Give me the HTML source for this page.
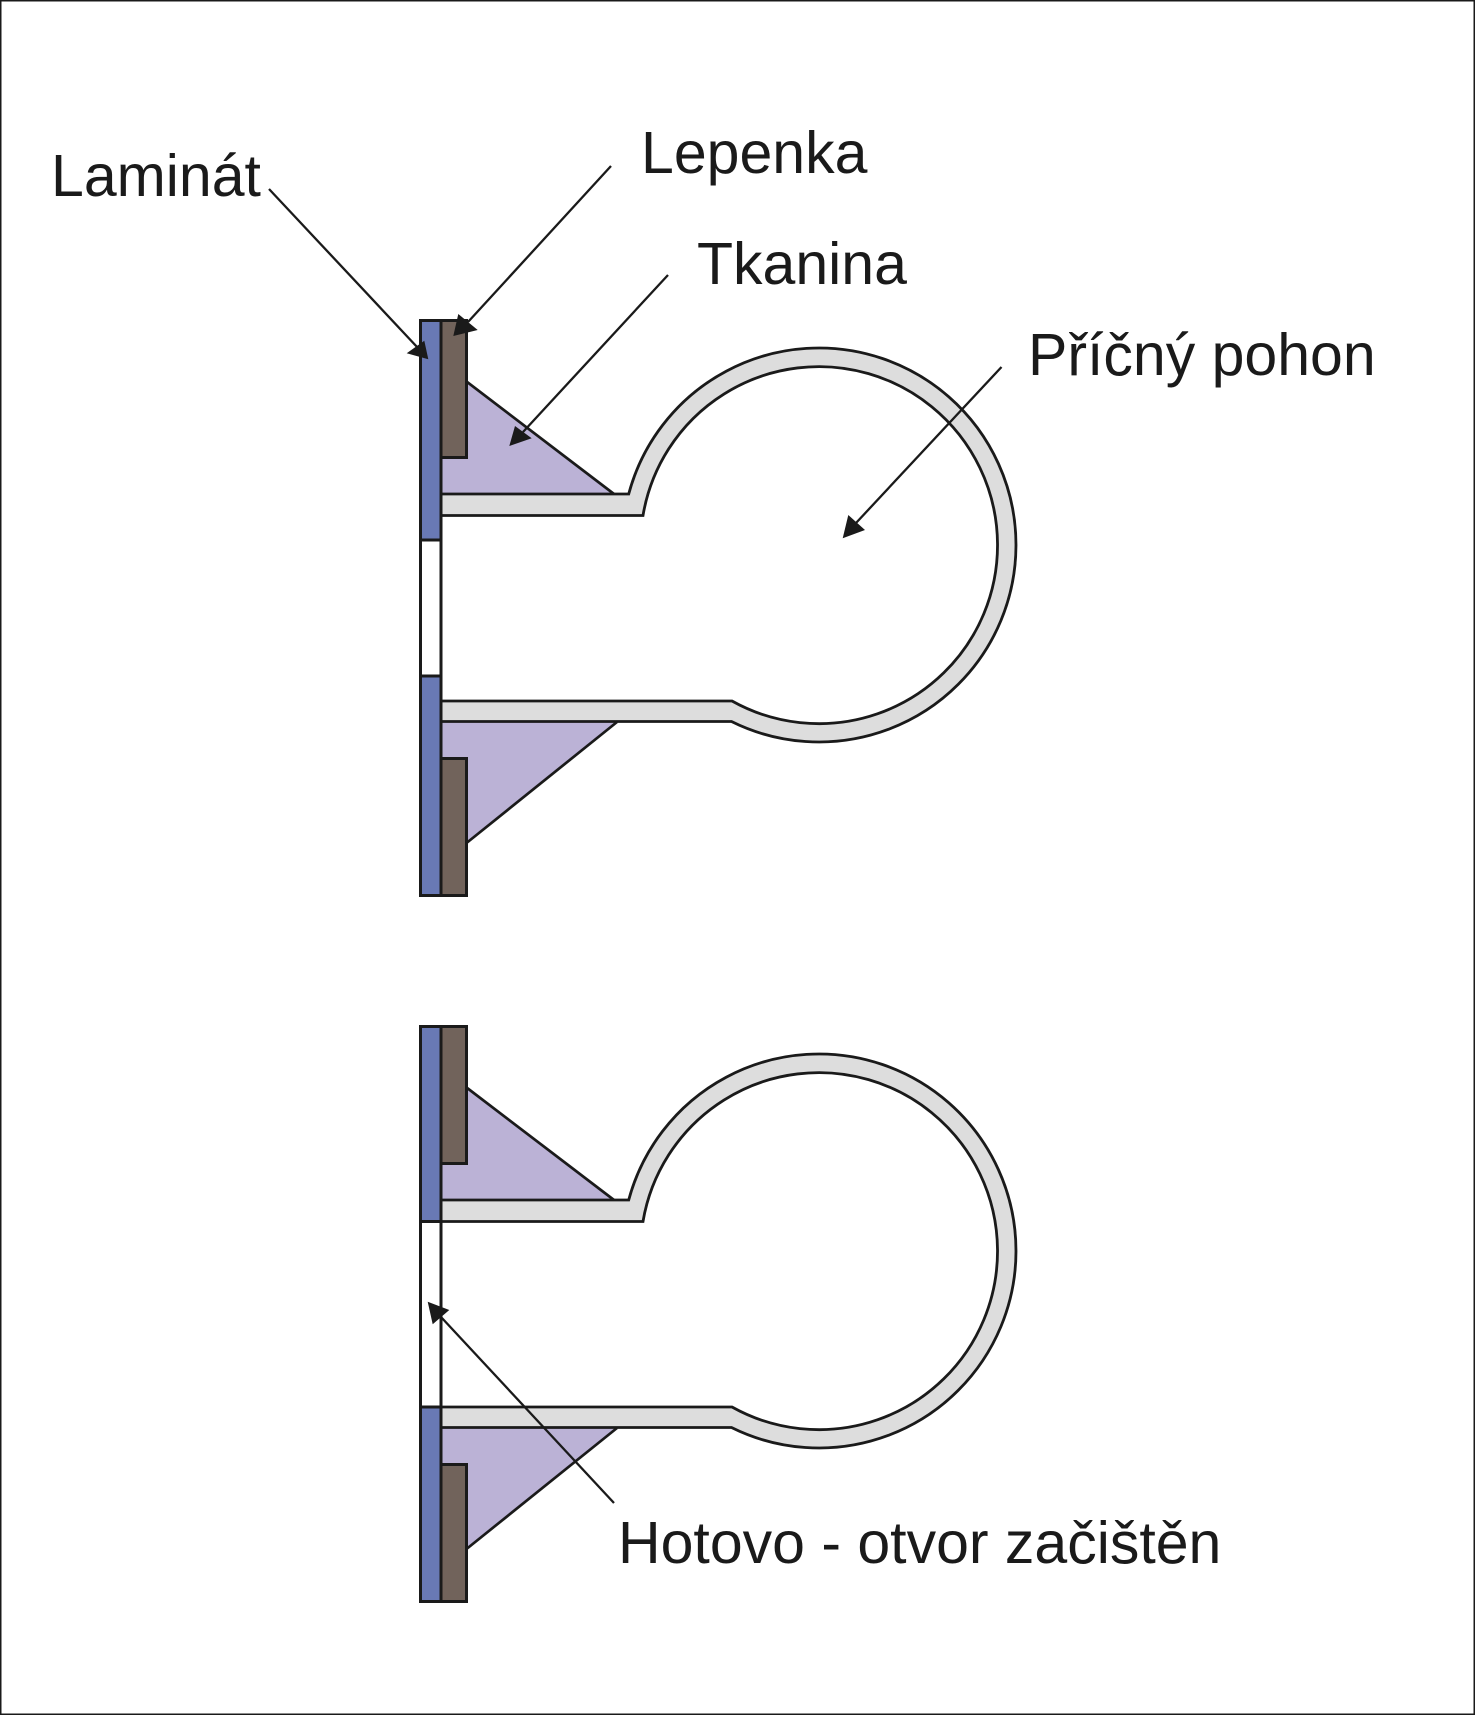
<!DOCTYPE html>
<html>
<head>
<meta charset="utf-8">
<style>
  html, body { margin:0; padding:0; background:#fff; }
  body { width:1475px; height:1715px; overflow:hidden; }
  svg { display:block; }
  text { font-family: "Liberation Sans", "DejaVu Sans", sans-serif; font-size:59px; fill:#1a1a1a; }
</style>
</head>
<body>
<svg width="1475" height="1715" viewBox="0 0 1475 1715" xmlns="http://www.w3.org/2000/svg">
  <rect x="0.75" y="0.75" width="1473.5" height="1713.5" fill="#fff" stroke="#1a1a1a" stroke-width="1.5"/>

  <!-- ============ UPPER FIGURE ============ -->
  <g>
    <polygon points="441,381.5 466.5,381.5 614,494 441,494" fill="#BBB2D6"/>
    <line x1="466.5" y1="381.5" x2="614" y2="494" stroke="#1a1a1a" stroke-width="2.7"/>
    <polygon points="441,722 617,722 466.5,843 441,843" fill="#BBB2D6"/>
    <line x1="617" y1="722" x2="466.5" y2="843" stroke="#1a1a1a" stroke-width="2.7"/>

    <path d="M441,494 L628.7,494 A197,197 0 1,1 731.5,721.5 L441,721.5 L441,701 L732,701 A178.5,178.5 0 1,0 643,515.5 L441,515.5 Z"
          fill="#DDDDDD" stroke="#1a1a1a" stroke-width="2.8" stroke-linejoin="miter"/>

    <rect x="441" y="320.5" width="25.5" height="137" fill="#71635B" stroke="#1a1a1a" stroke-width="3"/>
    <rect x="441" y="758.5" width="25.5" height="137" fill="#71635B" stroke="#1a1a1a" stroke-width="3"/>

    <rect x="420.5" y="320.5" width="20.5" height="219.5" fill="#6979B5" stroke="#1a1a1a" stroke-width="3"/>
    <rect x="420.5" y="540" width="20.5" height="136" fill="#ffffff" stroke="#1a1a1a" stroke-width="3"/>
    <rect x="420.5" y="676" width="20.5" height="219.5" fill="#6979B5" stroke="#1a1a1a" stroke-width="3"/>
  </g>

  <!-- ============ LOWER FIGURE ============ -->
  <g transform="translate(0,706)">
    <polygon points="441,381.5 466.5,381.5 614,494 441,494" fill="#BBB2D6"/>
    <line x1="466.5" y1="381.5" x2="614" y2="494" stroke="#1a1a1a" stroke-width="2.7"/>
    <polygon points="441,722 617,722 466.5,843 441,843" fill="#BBB2D6"/>
    <line x1="617" y1="722" x2="466.5" y2="843" stroke="#1a1a1a" stroke-width="2.7"/>

    <path d="M441,494 L628.7,494 A197,197 0 1,1 731.5,721.5 L441,721.5 L441,701 L732,701 A178.5,178.5 0 1,0 643,515.5 L441,515.5 Z"
          fill="#DDDDDD" stroke="#1a1a1a" stroke-width="2.8" stroke-linejoin="miter"/>

    <rect x="441" y="320.5" width="25.5" height="137" fill="#71635B" stroke="#1a1a1a" stroke-width="3"/>
    <rect x="441" y="758.5" width="25.5" height="137" fill="#71635B" stroke="#1a1a1a" stroke-width="3"/>

    <rect x="420.5" y="320.5" width="20.5" height="195" fill="#6979B5" stroke="#1a1a1a" stroke-width="3"/>
    <rect x="420.5" y="515.5" width="20.5" height="185.5" fill="#ffffff" stroke="#1a1a1a" stroke-width="3"/>
    <rect x="420.5" y="701" width="20.5" height="194.5" fill="#6979B5" stroke="#1a1a1a" stroke-width="3"/>
  </g>

  <!-- ============ LEADERS / ARROWS ============ -->
  <g stroke="#1a1a1a" stroke-width="2.3" fill="none">
    <line x1="269" y1="189" x2="418" y2="348"/>
    <line x1="611" y1="166" x2="468" y2="322"/>
    <line x1="668" y1="275" x2="523" y2="432"/>
    <line x1="1001.5" y1="367" x2="856" y2="523"/>
    <line x1="614" y1="1503" x2="441" y2="1317"/>
  </g>
  <g fill="#1a1a1a">
    <polygon points="428.3,359.3 406.7,353.3 424.3,340.7"/>
    <polygon points="453.3,336 458.3,314 477.7,330"/>
    <polygon points="509.3,446 515,426 531.7,438.3"/>
    <polygon points="842.7,538.3 848.3,515 865,530"/>
    <polygon points="427.7,1301.7 432.7,1324.3 449.3,1310"/>
  </g>

  <!-- ============ LABELS ============ -->
  <text x="51" y="196">Laminát</text>
  <text x="641" y="173">Lepenka</text>
  <text x="697" y="284">Tkanina</text>
  <text x="1028" y="375">Příčný pohon</text>
  <text x="618" y="1563">Hotovo - otvor začištěn</text>
</svg>
</body>
</html>
